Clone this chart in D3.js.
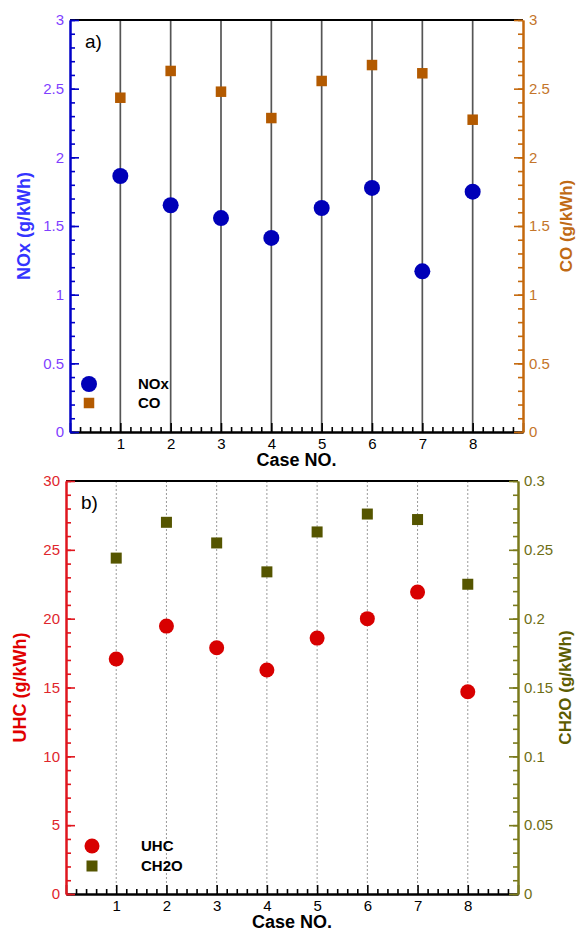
<!DOCTYPE html>
<html>
<head>
<meta charset="utf-8">
<script src="https://cdn.jsdelivr.net/npm/d3@7"></script>
<style>
  body { margin: 0; background: #fff; }
  svg { display: block; font-family: "Liberation Sans", Arial, sans-serif; }
</style>
</head>
<body>
<div id="chart"></div>
<script>

// data
var cases = [1, 2, 3, 4, 5, 6, 7, 8];
var nox  = [1.864, 1.651, 1.558, 1.413, 1.631, 1.777, 1.170, 1.750];
var co   = [2.434, 2.629, 2.478, 2.286, 2.556, 2.672, 2.612, 2.274];
var uhc  = [17.07, 19.46, 17.89, 16.27, 18.59, 20.00, 21.93, 14.69];
var ch2o = [0.244, 0.270, 0.255, 0.234, 0.263, 0.276, 0.272, 0.225];

var xDomain = [0, 9];
var leftTicksA  = [0, 0.5, 1, 1.5, 2, 2.5, 3];
var rightTicksA = [0, 0.5, 1, 1.5, 2, 2.5, 3];
var leftTicksB  = [0, 5, 10, 15, 20, 25, 30];
var rightTicksB = [0, 0.05, 0.1, 0.15, 0.2, 0.25, 0.3];

var W = 576, H = 931;

var svg = d3.select("#chart").append("svg")
  .attr("width", W)
  .attr("height", H);

var panels = [
  {
    box: { left: 70, right: 523, top: 20, bottom: 432 },
    tag: "a)",
    leftMax: 3, leftTicks: leftTicksA, leftStep: 0.1,
    rightMax: 3, rightTicks: rightTicksA, rightStep: 0.1,
    leftColor: "#0000c8", leftText: "#7f3fff", leftTitleColor: "#3434ff",
    rightColor: "#c4680c", rightText: "#c4752a", rightTitleColor: "#c06a14",
    leftTitle: "NOx (g/kWh)", rightTitle: "CO (g/kWh)",
    leftTitleX: 24, rightTitleX: 566,
    circles: nox, squares: co,
    circleFill: "#0000b8", squareFill: "#b35a00",
    circleR: 8, squareS: 10.5,
    names: ["NOx", "CO"],
    legend: { x: 89, y1: 384, y2: 403, tx: 138 },
    grid: "solid",
    xLabelY: 466
  },
  {
    box: { left: 66, right: 518, top: 481, bottom: 894 },
    tag: "b)",
    leftMax: 30, leftTicks: leftTicksB, leftStep: 1,
    rightMax: 0.3, rightTicks: rightTicksB, rightStep: 0.01,
    leftColor: "#e0161e", leftText: "#e0262c", leftTitleColor: "#e00000",
    rightColor: "#7a7a1c", rightText: "#6e6e14", rightTitleColor: "#5c5c00",
    leftTitle: "UHC (g/kWh)", rightTitle: "CH2O (g/kWh)",
    leftTitleX: 20, rightTitleX: 565,
    circles: uhc, squares: ch2o,
    circleFill: "#d80000", squareFill: "#555500",
    circleR: 7.5, squareS: 11,
    names: ["UHC", "CH2O"],
    legend: { x: 92, y1: 846, y2: 866, tx: 141 },
    grid: "dotted",
    xLabelY: 928
  }
];

panels.forEach(drawPanel);

function drawPanel(p) {

  var b = p.box;
  var g = svg.append("g");

  var x = d3.scaleLinear().domain(xDomain).range([b.left, b.right]);
  var yL = d3.scaleLinear().domain([0, p.leftMax]).range([b.bottom, b.top]);
  var yR = d3.scaleLinear().domain([0, p.rightMax]).range([b.bottom, b.top]);

  // vertical lines at each case
  g.selectAll(".grid")
    .data(cases)
    .enter().append("line")
    .attr("x1", function(d) { return x(d); })
    .attr("x2", function(d) { return x(d); })
    .attr("y1", b.top)
    .attr("y2", b.bottom)
    .attr("stroke", p.grid == "solid" ? "#555" : "#9a9a9a")
    .attr("stroke-width", p.grid == "solid" ? 1.7 : 1)
    .attr("stroke-dasharray", p.grid == "solid" ? null : "2,2");

  // top frame line
  g.append("line")
    .attr("x1", b.left).attr("x2", b.right)
    .attr("y1", b.top).attr("y2", b.top)
    .attr("stroke", "#000")
    .attr("stroke-width", 2);

  // x axis: minor ticks, then major with labels
  var xMinor = d3.range(0, 9.01, 0.2).filter(function(v) { return Math.abs(v - Math.round(v)) > 1e-6; });
  var gxm = g.append("g")
    .attr("transform", "translate(0," + b.bottom + ")")
    .call(d3.axisBottom(x).tickValues(xMinor).tickSize(-5).tickSizeOuter(0).tickFormat(""));
  var gx = g.append("g")
    .attr("transform", "translate(0," + b.bottom + ")")
    .call(d3.axisBottom(x).tickValues(d3.range(0, 10)).tickSize(-9).tickSizeOuter(0).tickPadding(6)
      .tickFormat(function(d) { return (d >= 1 && d <= 8) ? d : ""; }));
  styleAxis(gxm, "#000", "#000");
  styleAxis(gx, "#000", "#000");
  gx.select(".domain").attr("stroke-width", 2.2);

  // left axis
  var lMinor = d3.range(0, p.leftMax + p.leftStep / 2, p.leftStep);
  var glm = g.append("g")
    .attr("transform", "translate(" + b.left + ",0)")
    .call(d3.axisLeft(yL).tickValues(lMinor).tickSize(-5).tickSizeOuter(0).tickFormat(""));
  var gl = g.append("g")
    .attr("transform", "translate(" + b.left + ",0)")
    .call(d3.axisLeft(yL).tickValues(p.leftTicks).tickSize(-9).tickSizeOuter(0).tickPadding(6)
      .tickFormat(d3.format("")));
  styleAxis(glm, p.leftColor, p.leftText);
  styleAxis(gl, p.leftColor, p.leftText);

  // right axis
  var rMinor = d3.range(0, p.rightMax + p.rightStep / 2, p.rightStep);
  var grm = g.append("g")
    .attr("transform", "translate(" + b.right + ",0)")
    .call(d3.axisRight(yR).tickValues(rMinor).tickSize(-5).tickSizeOuter(0).tickFormat(""));
  var gr = g.append("g")
    .attr("transform", "translate(" + b.right + ",0)")
    .call(d3.axisRight(yR).tickValues(p.rightTicks).tickSize(-9).tickSizeOuter(0).tickPadding(6)
      .tickFormat(d3.format("")));
  styleAxis(grm, p.rightColor, p.rightText);
  styleAxis(gr, p.rightColor, p.rightText);

  // axis titles
  g.append("text")
    .attr("x", (b.left + b.right) / 2)
    .attr("y", p.xLabelY)
    .attr("text-anchor", "middle")
    .attr("font-size", "18px")
    .attr("font-weight", "bold")
    .attr("fill", "#000")
    .text("Case NO.");

  g.append("text")
    .attr("transform", "translate(" + p.leftTitleX + "," + ((b.top + b.bottom) / 2) + ") rotate(-90)")
    .attr("dy", "0.35em")
    .attr("text-anchor", "middle")
    .attr("font-size", "18px")
    .attr("font-weight", "bold")
    .attr("fill", p.leftTitleColor)
    .text(p.leftTitle);

  g.append("text")
    .attr("transform", "translate(" + p.rightTitleX + "," + ((b.top + b.bottom) / 2) + ") rotate(-90)")
    .attr("dy", "0.35em")
    .attr("text-anchor", "middle")
    .attr("font-size", "17px")
    .attr("font-weight", "bold")
    .attr("fill", p.rightTitleColor)
    .text(p.rightTitle);

  // panel tag
  g.append("text")
    .attr("x", b.left + 15)
    .attr("y", b.top + 28)
    .attr("font-size", "19px")
    .attr("fill", "#000")
    .text(p.tag);

  // squares (right axis series)
  g.selectAll(".sq")
    .data(p.squares)
    .enter().append("rect")
    .attr("x", function(d, i) { return x(cases[i]) - p.squareS / 2; })
    .attr("y", function(d) { return yR(d) - p.squareS / 2; })
    .attr("width", p.squareS)
    .attr("height", p.squareS)
    .attr("fill", p.squareFill);

  // circles (left axis series)
  g.selectAll(".ci")
    .data(p.circles)
    .enter().append("circle")
    .attr("cx", function(d, i) { return x(cases[i]); })
    .attr("cy", function(d) { return yL(d); })
    .attr("r", p.circleR)
    .attr("fill", p.circleFill);

  // legend
  var lg = p.legend;
  g.append("circle")
    .attr("cx", lg.x).attr("cy", lg.y1)
    .attr("r", p.circleR)
    .attr("fill", p.circleFill);
  g.append("rect")
    .attr("x", lg.x - p.squareS / 2).attr("y", lg.y2 - p.squareS / 2)
    .attr("width", p.squareS).attr("height", p.squareS)
    .attr("fill", p.squareFill);
  [lg.y1, lg.y2].forEach(function(yy, i) {
    g.append("text")
      .attr("x", lg.tx)
      .attr("y", yy)
      .attr("dy", "0.36em")
      .attr("font-size", "15px")
      .attr("font-weight", "bold")
      .attr("fill", "#000")
      .text(p.names[i]);
  });
}

function styleAxis(sel, lineColor, textColor) {
  sel.select(".domain").attr("stroke", lineColor).attr("stroke-width", 2);
  sel.selectAll(".tick line").attr("stroke", lineColor).attr("stroke-width", 1.6);
  sel.selectAll(".tick text")
    .attr("fill", textColor)
    .attr("font-size", "15px")
    .attr("font-family", "Liberation Sans, Arial, sans-serif");
}

</script>
</body>
</html>
